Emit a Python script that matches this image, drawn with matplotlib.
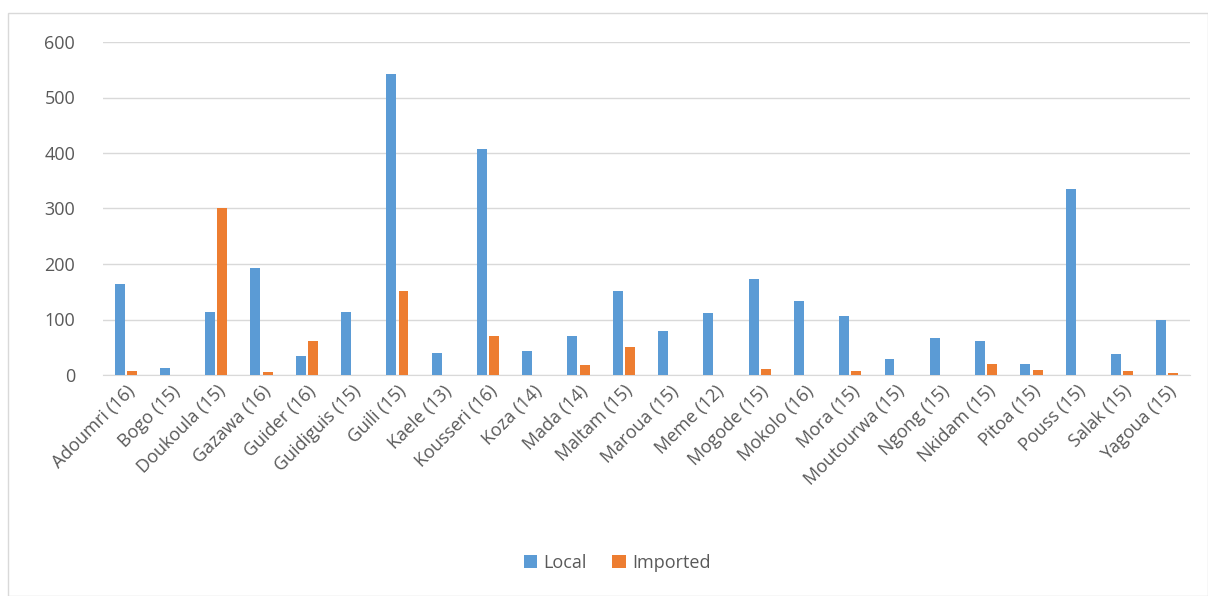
import numpy as np
import matplotlib.pyplot as plt
from matplotlib.patches import Rectangle

# data
sites = ["Adoumri (16)", "Bogo (15)", "Doukoula (15)", "Gazawa (16)", "Guider (16)",
         "Guidiguis (15)", "Guili (15)", "Kaele (13)", "Kousseri (16)", "Koza (14)",
         "Mada (14)", "Maltam (15)", "Maroua (15)", "Meme (12)", "Mogode (15)",
         "Mokolo (16)", "Mora (15)", "Moutourwa (15)", "Ngong (15)", "Nkidam (15)",
         "Pitoa (15)", "Pouss (15)", "Salak (15)", "Yagoua (15)"]
local = [164, 13, 114, 192, 34, 113, 543, 40, 408, 43,
         70, 151, 79, 112, 173, 134, 107, 29, 67, 61,
         20, 335, 38, 99]
imported = [7, 0, 301, 5, 61, 0, 151, 0, 70, 0,
            18, 50, 0, 0, 11, 0, 7, 0, 0, 20,
            9, 0, 8, 3]

plt.rcParams['font.family'] = ['Open Sans', 'DejaVu Sans']

fig = plt.figure(figsize=(12.08, 5.96), dpi=100)
ax = fig.add_axes([103 / 1208, 1 - 375 / 596, (1190 - 103) / 1208, (375 - 42) / 596])

# chart frame
fig.patches.append(Rectangle((8 / 1208, 0.0), 1200 / 1208, 1 - 13 / 596,
                             transform=fig.transFigure, fill=False,
                             edgecolor='#d9d9d9', linewidth=1))

x = np.arange(len(sites))
w = 0.22
ax.bar(x - 0.135, local, w, color='#5b9bd5', label='Local', zorder=3)
ax.bar(x + 0.135, imported, w, color='#ed7d31', label='Imported', zorder=3)

ax.set_xlim(-0.5, len(sites) - 0.5)
ax.set_ylim(0, 600)
ax.set_yticks(np.arange(0, 601, 100))
ax.yaxis.grid(True, color='#d9d9d9', linewidth=1, zorder=0)
for s in ['top', 'right', 'left']:
    ax.spines[s].set_visible(False)
ax.spines['bottom'].set_color('#d9d9d9')
ax.tick_params(axis='both', length=0, colors='#595959', labelsize=13)
ax.tick_params(axis='y', pad=20)
ax.tick_params(axis='x', pad=5)
ax.set_xticks(x)
ax.set_xticklabels(sites, rotation=45, ha='right', rotation_mode='anchor')

fig.legend(loc='center', bbox_to_anchor=(617 / 1208, 1 - 563 / 596), ncol=2,
           frameon=False, fontsize=13, handlelength=0.75, handleheight=0.75,
           handletextpad=0.35, columnspacing=1.4, labelcolor='#595959')

fig.savefig('out.png', dpi=100)
